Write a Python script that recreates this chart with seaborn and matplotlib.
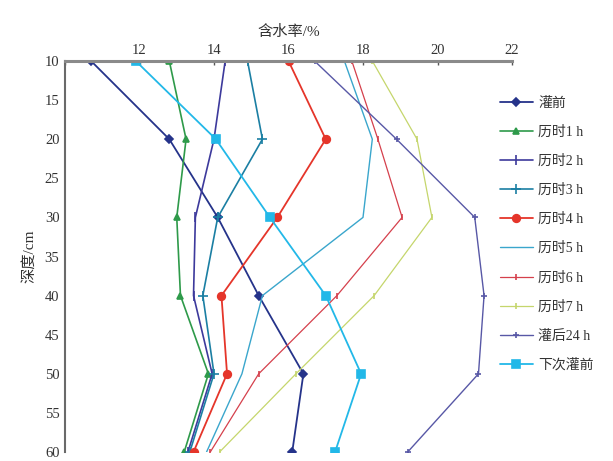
import matplotlib
matplotlib.use("Agg")
import matplotlib.pyplot as plt
import seaborn as sns
import pandas as pd

depths = [10, 20, 30, 40, 50, 60]
series_names = ["灌前", "历时1 h", "历时2 h", "历时3 h", "历时4 h",
                "历时5 h", "历时6 h", "历时7 h", "灌后24 h", "下次灌前"]
w_before = [10.7, 12.8, 14.1, 15.2, 16.4, 16.1]
w_1h = [12.8, 13.25, 13.0, 13.1, 13.85, 13.2]
w_2h = [14.3, 14.0, 13.5, 13.45, 13.95, 13.3]
w_3h = [14.9, 15.3, 14.1, 13.7, 14.0, 13.35]
w_4h = [16.0, 17.0, 15.7, 14.2, 14.35, 13.45]
w_5h = [17.5, 18.25, 18.0, 15.3, 14.75, 13.8]
w_6h = [17.7, 18.4, 19.05, 17.3, 15.2, 13.9]
w_7h = [18.25, 19.45, 19.85, 18.3, 16.2, 14.15]
w_24h = [16.7, 18.9, 21.0, 21.25, 21.1, 19.2]
w_next = [11.9, 14.05, 15.5, 17.0, 17.95, 17.25]
all_values = [w_before, w_1h, w_2h, w_3h, w_4h, w_5h, w_6h, w_7h, w_24h, w_next]

colors = ["#25338a", "#2e9a4a", "#3d3a9c", "#1b7fa3", "#e5352a",
          "#3aa6cc", "#d5404c", "#c5d66c", "#5858a6", "#22b8e8"]
markers = ["D", "^", "|", "+", "o", "", "|", "|", "+", "s"]
msizes = [4.5, 4.5, 7, 7, 5.5, 0, 5, 5, 5, 6]
lwidths = [1.3, 1.2, 1.2, 1.2, 1.3, 1.0, 0.9, 0.9, 1.0, 1.3]

df = pd.DataFrame([
    {"series": name, "depth": d, "w": v}
    for name, vals in zip(series_names, all_values)
    for d, v in zip(depths, vals)
])

sns.set_theme(style="white")
plt.rcParams["font.family"] = ["Liberation Serif", "Noto Sans CJK SC", "DejaVu Sans"]
plt.rcParams["axes.unicode_minus"] = False

fig = plt.figure(figsize=(6.13, 4.61), dpi=100)
top_px, bot_px = 61, 452
ax = fig.add_axes([65 / 613, 1 - bot_px / 461, (512 - 65) / 613, (bot_px - top_px) / 461])

for name, c, m, ms, lw in zip(series_names, colors, markers, msizes, lwidths):
    sub = df[df["series"] == name]
    sns.lineplot(data=sub, x="w", y="depth", orient="y", sort=False, ax=ax,
                 color=c, marker=m if m else None, markersize=ms, linewidth=lw,
                 markeredgecolor=c, markeredgewidth=1.2, label=name)

ax.set_xlim(10, 22)
ax.set_ylim(60, 10)
ax.xaxis.tick_top()
ax.xaxis.set_label_position("top")
xt = [10, 12, 14, 16, 18, 20, 22]
ax.set_xticks(xt)
ax.set_xticklabels([""] + [str(t) for t in xt[1:]])
yt = list(range(10, 65, 5))
ax.set_yticks(yt)
ax.set_yticklabels([str(t) for t in yt])
ax.tick_params(axis="both", direction="in", length=3, width=1, colors="#555555",
               labelsize=10.5, labelcolor="#333333", pad=4)
ax.tick_params(axis="x", pad=3)
for s in ["right", "bottom"]:
    ax.spines[s].set_visible(False)
ax.spines["top"].set_color("#8a8a8a")
ax.spines["top"].set_linewidth(2.2)
ax.spines["left"].set_color("#6a6a6a")
ax.spines["left"].set_linewidth(1.5)
ax.set_xlabel("含水率/%", fontsize=11, color="#333333", labelpad=6)
ax.set_ylabel("深度/cm", fontsize=11, color="#333333", labelpad=6)
ax.grid(False)

handles, labels = ax.get_legend_handles_labels()
ax.legend_.remove()
fig.legend(handles, labels, loc="upper left",
           bbox_to_anchor=(487 / 613, 1 - 84 / 461), frameon=False,
           fontsize=10, labelspacing=1.15, handlelength=2.4, handletextpad=0.4,
           labelcolor="#333333")

fig.savefig("out.png", dpi=100)
